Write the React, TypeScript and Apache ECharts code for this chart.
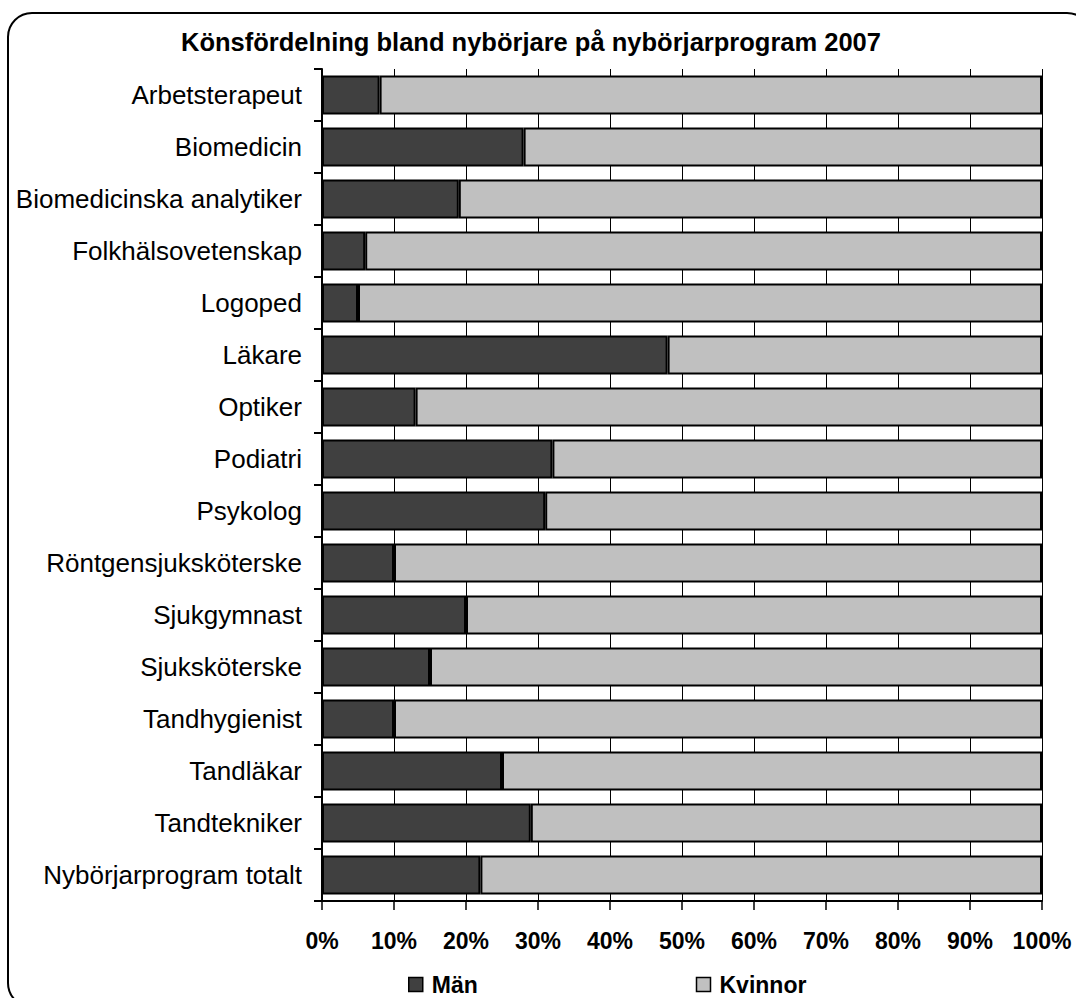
import React, { useEffect, useRef } from "react";
import * as echarts from "echarts";

const categories = [
  "Arbetsterapeut",
  "Biomedicin",
  "Biomedicinska analytiker",
  "Folkhälsovetenskap",
  "Logoped",
  "Läkare",
  "Optiker",
  "Podiatri",
  "Psykolog",
  "Röntgensjuksköterske",
  "Sjukgymnast",
  "Sjuksköterske",
  "Tandhygienist",
  "Tandläkar",
  "Tandtekniker",
  "Nybörjarprogram totalt",
];

const man = [8, 28, 19, 6, 5, 48, 13, 32, 31, 10, 20, 15, 10, 25, 29, 22];
const kvinnor = [92, 72, 81, 94, 95, 52, 87, 68, 69, 90, 80, 85, 90, 75, 71, 78];

const titleText = "Könsfördelning bland nybörjare på nybörjarprogram 2007";
const seriesNames = ["Män", "Kvinnor"];

export default function App() {
  const ref = useRef<HTMLDivElement>(null);

  useEffect(() => {
    if (!ref.current) return;
    const chart = echarts.init(ref.current, null, { renderer: "svg" });
    const font = "'Liberation Sans', Arial, sans-serif";
    chart.setOption({
      animation: false,
      backgroundColor: "#ffffff",
      graphic: [
        {
          type: "rect",
          z: 0,
          shape: { x: 8, y: 13, width: 1083, height: 994, r: 24 },
          style: { fill: "none", stroke: "#000", lineWidth: 2 },
          silent: true,
        },
        {
          type: "text",
          x: 531,
          y: 42,
          style: {
            text: titleText,
            font: `bold 25.5px ${font}`,
            fill: "#000",
            align: "center",
            verticalAlign: "middle",
          },
        },
      ],
      legend: {
        data: seriesNames,
        left: 408,
        top: 973,
        padding: 0,
        itemWidth: 14,
        itemHeight: 14,
        itemGap: 218,
        icon: "rect",
        itemStyle: { borderColor: "#000", borderWidth: 1.5 },
        textStyle: {
          fontFamily: font,
          fontWeight: "bold",
          fontSize: 23,
          lineHeight: 23,
          color: "#000",
          padding: [0, 0, 0, 4],
        },
      },
      grid: { left: 322, right: 34, top: 69, bottom: 97, containLabel: false },
      xAxis: {
        type: "value",
        min: 0,
        max: 100,
        interval: 10,
        axisLine: { show: true, lineStyle: { color: "#000", width: 2 } },
        axisTick: { show: true, length: 9, lineStyle: { color: "#000", width: 1.5 } },
        splitLine: { show: true, lineStyle: { color: "#000", width: 1 } },
        axisLabel: {
          formatter: "{value}%",
          fontFamily: font,
          fontWeight: "bold",
          fontSize: 23,
          color: "#000",
          margin: 28,
        },
      },
      yAxis: {
        type: "category",
        data: categories,
        inverse: true,
        axisLine: { show: true, lineStyle: { color: "#000", width: 2 } },
        axisTick: { show: true, length: 8, lineStyle: { color: "#000", width: 2 } },
        axisLabel: {
          fontFamily: font,
          fontSize: 26,
          color: "#000",
          margin: 20,
        },
      },
      series: [
        {
          name: seriesNames[0],
          type: "bar",
          stack: "total",
          data: man,
          barCategoryGap: "25%",
          itemStyle: { color: "#404040", borderColor: "#000", borderWidth: 2 },
        },
        {
          name: seriesNames[1],
          type: "bar",
          stack: "total",
          data: kvinnor,
          barCategoryGap: "25%",
          itemStyle: { color: "#c0c0c0", borderColor: "#000", borderWidth: 2 },
        },
      ],
    });
    return () => chart.dispose();
  }, []);

  return (
    <div
      ref={ref}
      style={{ position: "absolute", left: 0, top: 0, width: 1076, height: 998 }}
    />
  );
}
